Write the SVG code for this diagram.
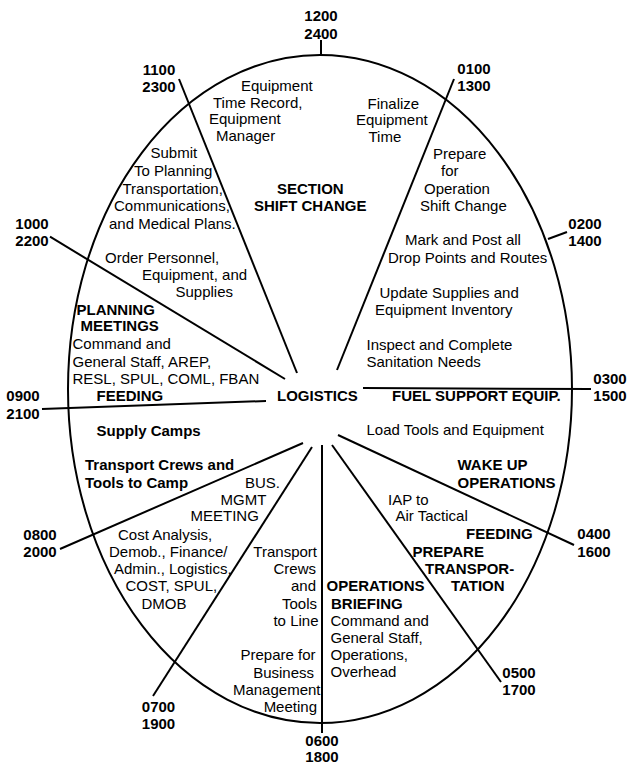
<svg xmlns="http://www.w3.org/2000/svg" width="628" height="764" viewBox="0 0 628 764">
<style>
text{font-family:"Liberation Sans",Arial,sans-serif;font-size:15px;fill:#000}
.b{font-weight:bold}
.m{text-anchor:middle}
.e{text-anchor:end}
.ln{stroke:#000;stroke-width:2;fill:none}
</style>
<rect width="628" height="764" fill="#fff"/>
<g id="clock">
<ellipse class="ln" cx="320" cy="389" rx="252" ry="334"/>
</g>
<g id="connectors">
<line class="ln" x1="321" y1="40" x2="321" y2="55"/>
<line class="ln" x1="179" y1="79" x2="297" y2="373"/>
<line class="ln" x1="454" y1="79" x2="337" y2="370"/>
<line class="ln" x1="50" y1="236.7" x2="285" y2="379"/>
<line class="ln" x1="548" y1="239" x2="567" y2="232"/>
<line class="ln" x1="42" y1="409" x2="266" y2="401"/>
<line class="ln" x1="363" y1="388" x2="591" y2="389"/>
<line class="ln" x1="60" y1="549" x2="303" y2="443"/>
<line class="ln" x1="153" y1="696" x2="312" y2="447"/>
<line class="ln" x1="322" y1="445" x2="322" y2="733"/>
<line class="ln" x1="332" y1="445" x2="501" y2="682"/>
<line class="ln" x1="338" y1="435" x2="574" y2="545"/>
</g>
<g id="hours">
<text class="b m" x="321" y="21">1200<tspan x="321" y="39">2400</tspan></text>
<text class="b m" x="159" y="74.5">1100<tspan x="159" y="91.5">2300</tspan></text>
<text class="b m" x="474" y="73.5">0100<tspan x="474" y="90.5">1300</tspan></text>
<text class="b m" x="32" y="229">1000<tspan x="32" y="246">2200</tspan></text>
<text class="b m" x="585" y="229">0200<tspan x="585" y="246">1400</tspan></text>
<text class="b m" x="23" y="401">0900<tspan x="23" y="419">2100</tspan></text>
<text class="b m" x="610" y="384">0300<tspan x="610" y="401">1500</tspan></text>
<text class="b m" x="40" y="539.5">0800<tspan x="40" y="557">2000</tspan></text>
<text class="b m" x="594" y="538.5">0400<tspan x="594" y="557">1600</tspan></text>
<text class="b m" x="158.5" y="712">0700<tspan x="158.5" y="728.5">1900</tspan></text>
<text class="b m" x="519" y="678">0500<tspan x="519" y="695">1700</tspan></text>
<text class="b m" x="322" y="745.5">0600<tspan x="322" y="762">1800</tspan></text>
</g>
<g id="logistics"><text class="b" x="277" y="401">LOGISTICS</text></g>
<g id="equipment-time-record">
<text x="241" y="90.7">Equipment<tspan x="213" y="107.7">Time Record,</tspan><tspan x="209" y="124.4">Equipment</tspan><tspan x="216" y="141">Manager</tspan></text>
</g>
<g id="finalize">
<text x="367.5" y="108.5">Finalize<tspan x="356" y="124.5">Equipment</tspan><tspan x="368.5" y="141.5">Time</tspan></text>
</g>
<g id="submit">
<text x="150.5" y="158.3">Submit<tspan x="134" y="176">To Planning</tspan><tspan x="122.5" y="193.5">Transportation,</tspan><tspan x="114" y="211">Communications,</tspan><tspan x="109" y="228.5">and Medical Plans.</tspan></text>
</g>
<g id="section-shift-change">
<text class="b" x="277" y="194">SECTION<tspan x="254" y="211">SHIFT CHANGE</tspan></text>
</g>
<g id="prepare-shift">
<text x="433" y="158.5">Prepare<tspan x="441" y="176">for</tspan><tspan x="424" y="194">Operation</tspan><tspan x="420" y="211">Shift Change</tspan></text>
</g>
<g id="order-personnel">
<text x="105" y="263">Order Personnel,<tspan x="142" y="280">Equipment, and</tspan><tspan x="175.5" y="297">Supplies</tspan></text>
</g>
<g id="mark-post">
<text x="405" y="245">Mark and Post all<tspan x="388" y="262.5">Drop Points and Routes</tspan></text>
</g>
<g id="update-supplies">
<text x="379.5" y="297.5">Update Supplies and<tspan x="375" y="314.5">Equipment Inventory</tspan></text>
</g>
<g id="planning-meetings">
<text class="b" x="76.5" y="314.5">PLANNING<tspan x="80.5" y="331">MEETINGS</tspan></text>
<text x="72.5" y="348.5">Command and<tspan x="72.5" y="366.5">General Staff, AREP,</tspan><tspan x="72.5" y="384">RESL, SPUL, COML, FBAN</tspan></text>
<text class="b" x="96.5" y="401">FEEDING</text>
</g>
<g id="inspect">
<text x="366.5" y="349.5">Inspect and Complete<tspan x="366.5" y="366.5">Sanitation Needs</tspan></text>
</g>
<g id="fuel"><text class="b" x="392" y="401">FUEL SUPPORT EQUIP.</text></g>
<g id="supply-camps"><text class="b" x="96.5" y="436">Supply Camps</text></g>
<g id="load-tools"><text x="366.5" y="435">Load Tools and Equipment</text></g>
<g id="transport-crews-camp">
<text class="b" x="85" y="470">Transport Crews and<tspan x="85" y="487.5">Tools to Camp</tspan></text>
</g>
<g id="wake-up">
<text class="b" x="457.5" y="470">WAKE UP<tspan x="457.5" y="487.5">OPERATIONS</tspan></text>
</g>
<g id="bus-mgmt">
<text x="245" y="487.5">BUS.<tspan x="220.5" y="505">MGMT</tspan><tspan x="190.5" y="521">MEETING</tspan></text>
</g>
<g id="iap">
<text x="388" y="505">IAP to<tspan x="395.5" y="521">Air Tactical</tspan></text>
</g>
<g id="cost-analysis">
<text x="118" y="539.5">Cost Analysis,<tspan x="109" y="557">Demob., Finance/</tspan><tspan x="114" y="574">Admin., Logistics,</tspan><tspan x="125.5" y="591">COST, SPUL,</tspan><tspan x="141.5" y="608.5">DMOB</tspan></text>
</g>
<g id="feeding-right"><text class="b" x="466" y="538.5">FEEDING</text></g>
<g id="prepare-transport">
<text class="b" x="412.5" y="557">PREPARE<tspan x="425" y="574">TRANSPOR-</tspan><tspan x="451" y="591">TATION</tspan></text>
</g>
<g id="transport-line">
<text class="e" x="317" y="557">Transport<tspan x="316" y="574">Crews</tspan><tspan x="316" y="591">and</tspan><tspan x="317" y="608.5">Tools</tspan><tspan x="318.5" y="626">to Line</tspan></text>
</g>
<g id="prepare-business">
<text class="e" x="315.5" y="660">Prepare for<tspan x="314" y="677.5">Business</tspan><tspan x="320.5" y="695">Management</tspan><tspan x="317" y="712">Meeting</tspan></text>
</g>
<g id="operations-briefing">
<text class="b" x="326.5" y="591">OPERATIONS<tspan x="331" y="608.5">BRIEFING</tspan></text>
<text x="330.5" y="626">Command and<tspan x="330.5" y="643">General Staff,</tspan><tspan x="330.5" y="660">Operations,</tspan><tspan x="330.5" y="677">Overhead</tspan></text>
</g>
</svg>
